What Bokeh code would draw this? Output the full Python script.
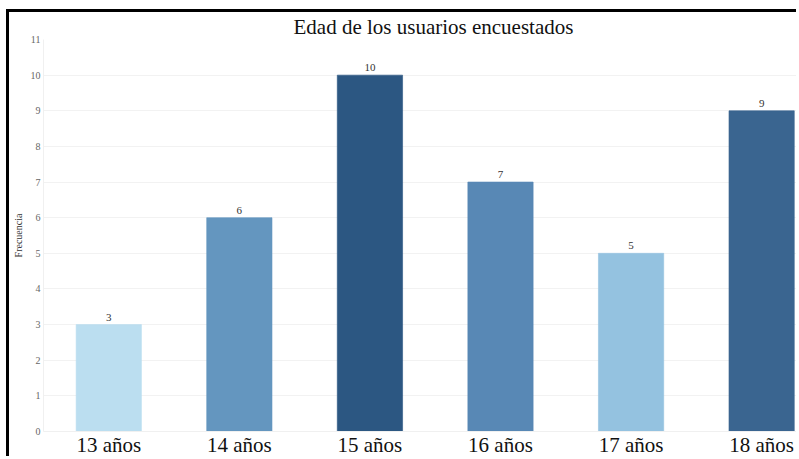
from bokeh.plotting import figure
from bokeh.models import ColumnDataSource, FixedTicker
from bokeh.core.properties import value
from bokeh.embed import file_html
from bokeh.resources import INLINE

categories = ["13 años", "14 años", "15 años", "16 años", "17 años", "18 años"]
counts = [3, 6, 10, 7, 5, 9]
colors = ["#BBDEF0", "#6496BF", "#2C5782", "#5888B5", "#94C2E0", "#3A6590"]
y_ticks = list(range(0, 12))

xs = list(range(len(categories)))
src = ColumnDataSource(dict(x=xs, y=counts, c=colors, t=[str(v) for v in counts]))

p = figure(width=790, height=447, output_backend="svg", toolbar_location=None,
           x_range=(-0.5, 5.29), y_range=(0, 11),
           min_border_left=30, min_border_right=0, min_border_top=0, min_border_bottom=0)
p.styles = {"margin-left": "6px", "margin-top": "9px",
            "border-top": "3px solid #000", "border-left": "3px solid #000"}

p.vbar(x="x", top="y", width=0.5, source=src, fill_color="c", line_color="c", line_alpha=0.6)
p.text(x="x", y="y", text="t", source=src, text_align="center", text_baseline="bottom",
       y_offset=-4, text_font=value("Liberation Serif"), text_font_size="11px",
       text_color="#333333", text_font_style="normal")

p.title.text = "Edad de los usuarios encuestados"
p.title.text_font = "Liberation Serif"
p.title.text_font_size = "21px"
p.title.text_font_style = "normal"
p.title.text_color = "#111111"
p.title.align = "left"
p.title.offset = 250
p.title.standoff = 1

p.xaxis.ticker = FixedTicker(ticks=xs)
p.xaxis.major_label_overrides = {i: c for i, c in enumerate(categories)}
p.xaxis.major_label_text_font = "Liberation Serif"
p.xaxis.major_label_text_font_size = "21px"
p.xaxis.major_label_text_color = "#111111"
p.xaxis.major_tick_line_color = None
p.xaxis.minor_tick_line_color = None
p.xaxis.major_tick_out = 0
p.xaxis.minor_tick_out = 0
p.xaxis.axis_line_color = "#f0f0f0"
p.xaxis.major_label_standoff = 1

p.yaxis.ticker = FixedTicker(ticks=y_ticks)
p.yaxis.major_label_text_font = "Liberation Serif"
p.yaxis.major_label_text_font_size = "10px"
p.yaxis.major_label_text_color = "#666666"
p.yaxis.major_tick_line_color = None
p.yaxis.minor_tick_line_color = None
p.yaxis.major_tick_out = 0
p.yaxis.minor_tick_out = 0
p.yaxis.axis_line_color = "#f0f0f0"
p.yaxis.major_label_standoff = 3
p.yaxis.axis_label = "Frecuencia"
p.yaxis.axis_label_text_font = "Liberation Serif"
p.yaxis.axis_label_text_font_size = "10px"
p.yaxis.axis_label_text_font_style = "normal"
p.yaxis.axis_label_text_color = "#333333"
p.yaxis.axis_label_standoff = 4

p.xgrid.grid_line_color = None
p.ygrid.grid_line_color = "#f2f2f2"
p.outline_line_color = None

open("out.html", "w").write(file_html(p, INLINE))
